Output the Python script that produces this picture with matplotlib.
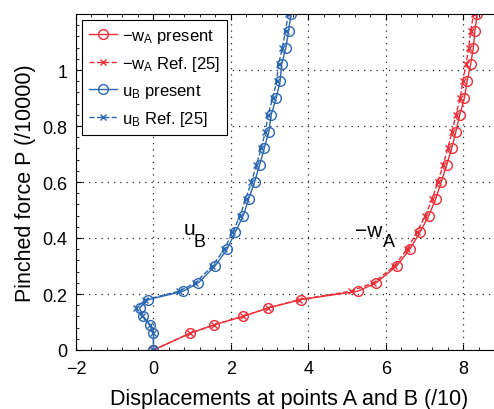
import matplotlib
matplotlib.use("Agg")
import matplotlib.pyplot as plt
from matplotlib.ticker import MultipleLocator

plt.rcParams['font.family'] = ['Liberation Sans', 'DejaVu Sans']
plt.rcParams['mathtext.default'] = 'regular'

# load levels (same for all series)
P = [0, 0.06, 0.09, 0.12, 0.15, 0.18, 0.21, 0.24, 0.30, 0.36, 0.42, 0.48,
     0.54, 0.60, 0.66, 0.72, 0.78, 0.84, 0.90, 0.96, 1.02, 1.08, 1.14, 1.20]

wA_present = [0, 0.95, 1.57, 2.31, 2.96, 3.81, 5.28, 5.75, 6.28, 6.62, 6.88, 7.11,
              7.29, 7.43, 7.57, 7.70, 7.81, 7.91, 8.03, 8.10, 8.19, 8.26, 8.30, 8.36]
wA_ref = [0, 0.95, 1.57, 2.31, 2.96, 3.76, 5.10, 5.68, 6.22, 6.55, 6.80, 7.02,
          7.20, 7.34, 7.48, 7.60, 7.71, 7.81, 7.92, 7.99, 8.07, 8.14, 8.19, 8.27]

uB_present = [0, 0.0, -0.09, -0.26, -0.36, -0.13, 0.77, 1.16, 1.59, 1.90, 2.11, 2.32,
              2.46, 2.61, 2.74, 2.86, 2.98, 3.04, 3.17, 3.27, 3.31, 3.42, 3.49, 3.55]
uB_ref = [0, 0.0, -0.10, -0.30, -0.44, -0.21, 0.67, 1.08, 1.52, 1.83, 2.04, 2.24,
          2.38, 2.53, 2.66, 2.78, 2.89, 2.96, 3.08, 3.18, 3.23, 3.33, 3.41, 3.48]

red = '#ec2d38'
blue = '#2a66b2'

fig = plt.figure(figsize=(4.94, 4.10), dpi=100)
ax = fig.add_axes([76 / 494, 59 / 410, 426 / 494, 336 / 410])

ax.plot(wA_present, P, '-o', color=red, lw=1, ms=7, mfc='none', mew=1,
        label=r'$-w_A$ present')
ax.plot(wA_ref, P, '--x', color=red, lw=1, ms=5, mew=1,
        label=r'$-w_A$ Ref. [25]')
ax.plot(uB_present, P, '-o', color=blue, lw=1, ms=7, mfc='none', mew=1,
        label=r'$u_B$ present')
ax.plot(uB_ref, P, '--x', color=blue, lw=1, ms=5, mew=1,
        label=r'$u_B$ Ref. [25]')

ax.set_xlim(-2, 9)
ax.set_ylim(0, 1.2)
ax.xaxis.set_minor_locator(MultipleLocator(0.4))
ax.yaxis.set_minor_locator(MultipleLocator(0.04))
ax.set_yticks([0, 0.2, 0.4, 0.6, 0.8, 1.0])
ax.set_yticklabels(['0', '0.2', '0.4', '0.6', '0.8', '1'])
ax.set_xticks([-2, 0, 2, 4, 6, 8])
ax.set_xticklabels(['\u22122', '0', '2', '4', '6', '8'])
ax.tick_params(which='both', direction='in', top=True, right=True, labelsize=13)
ax.tick_params(axis='x', pad=7)
ax.tick_params(axis='y', pad=6)
ax.tick_params(which='major', length=4)
ax.tick_params(which='minor', length=2)
ax.grid(True, which='major', ls=(0, (1, 4)), color='0.15', lw=0.9)

ax.set_xlabel('Displacements at points A and B (/10)', fontsize=15.5, labelpad=8)
ax.set_ylabel('Pinched force P (/10000)', fontsize=15.5, labelpad=5)

# curve labels, drawn with large subscripts
ax.text(0.77, 0.414, 'u', fontsize=15)
ax.text(1.04, 0.371, 'B', fontsize=13)
ax.text(5.2, 0.407, '\u2212w', fontsize=15)
ax.text(5.92, 0.371, 'A', fontsize=13)

leg = ax.legend(loc='upper left', bbox_to_anchor=(0.014, 0.982), borderaxespad=0,
                fontsize=12, handlelength=1.7, fancybox=False, framealpha=1,
                edgecolor='k', labelspacing=0.55, handletextpad=0.3,
                borderpad=0.4)
leg.get_frame().set_linewidth(0.8)

fig.savefig('out.png', dpi=100)
